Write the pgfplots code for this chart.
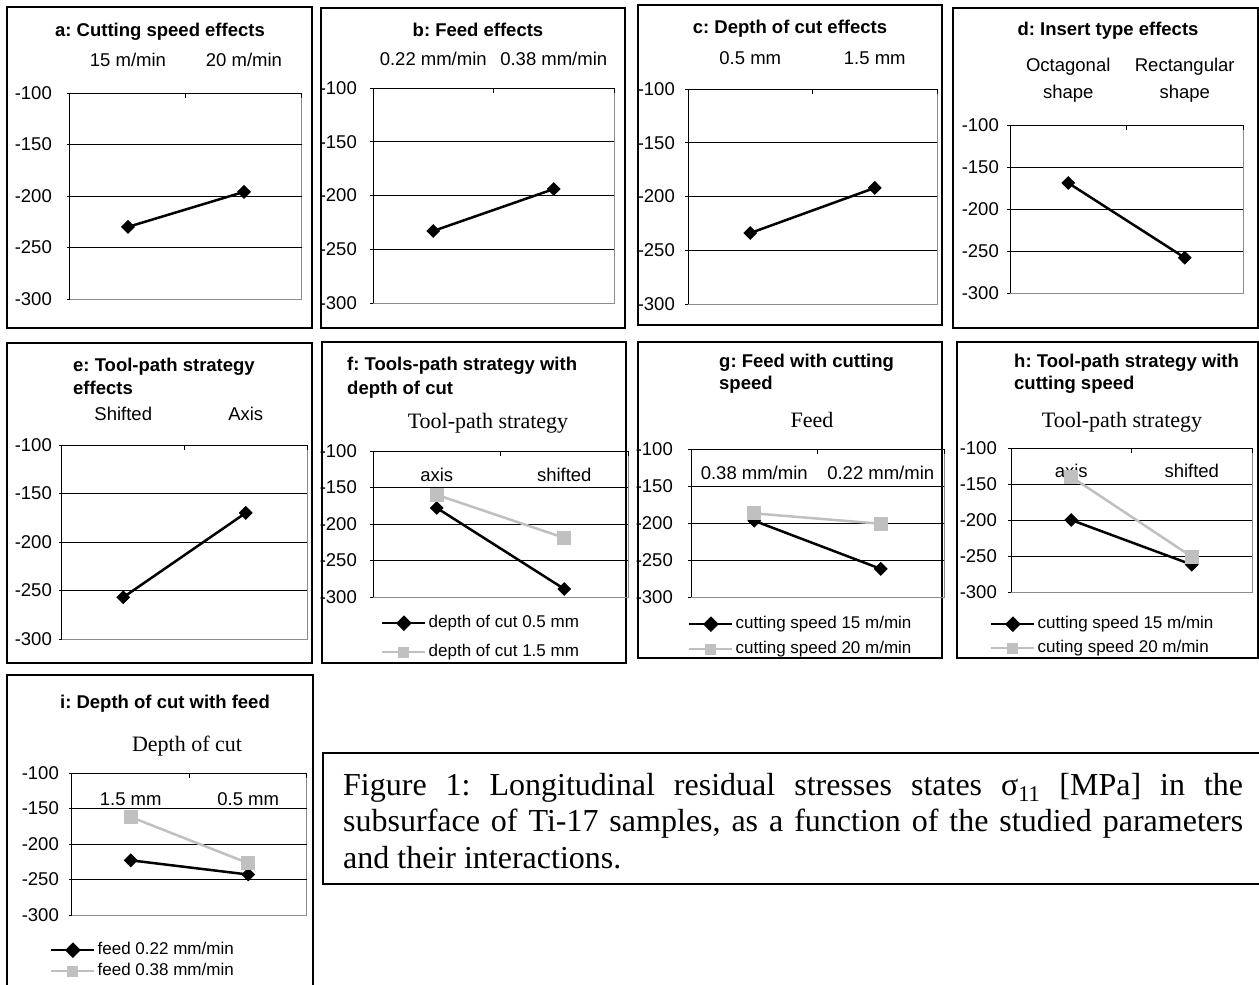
\documentclass[border=0pt]{standalone}
\usepackage{fontspec}
\setmainfont{Liberation Sans}
\newfontfamily\tms{Liberation Serif}
\usepackage{pgfplots}
\pgfplotsset{compat=1.18}
\definecolor{lgray}{HTML}{C0C0C0}
\definecolor{bgray}{HTML}{8C8C8C}

\pgfplotsset{
  panel/.style n args={6}{
    scale only axis, anchor=south west, at={(#1pt,-#2pt)}, width=#3pt, height=#4pt,
    xmin=0.5, xmax=2.5, ymin=-300, ymax=-100,
    axis line style={draw=none},
    xtick={1,2}, xticklabel pos=right, xtick style={draw=none},
    xticklabel style={anchor=center, inner sep=0pt, yshift=#5pt, font=\fontsize{18.5}{27}\selectfont, align=center},
    ytick={-300,-250,-200,-150,-100},
    yticklabels={-300,-250,-200,-150,-100},
    ytick pos=left,
    ytick style={black, line width=0.8pt},
    tick align=outside, major tick length=3pt,
    yticklabel style={font=\fontsize{18.5}{20}\selectfont, inner sep=0pt, anchor=east, xshift=-#6pt},
    clip=false,
  },
  blk/.style={black, line width=2.5pt, mark=square*, mark size=4.4pt, mark options={rotate=45, solid, line width=1pt}},
  gry/.style={lgray, line width=2.5pt, mark=square*, mark size=6.5pt, mark options={solid, line width=1pt}},
  leg/.style n args={3}{
    legend style={draw=none, fill=none, at={(rel axis cs:0,0)}, anchor=north west,
      xshift=#1pt, yshift=#2pt, inner sep=0pt, row sep=#3pt,
      font=\fontsize{17}{20}\selectfont,
      nodes={inner sep=0pt, text height=12pt, text depth=4pt},
      /tikz/every odd column/.append style={column sep=2pt}},
    legend cell align=left,
    legend image code/.code={\draw[mark repeat=2, mark phase=2, ##1, mark size=5pt] plot coordinates {(0pt,0pt) (21.5pt,0pt) (43pt,0pt)};},
  },
}

\newcommand\frameaxis{%
  \draw[bgray, line width=1pt] (rel axis cs:0,0) -- (rel axis cs:1,0) -- (rel axis cs:1,1);
  \draw[black, line width=0.9pt] (rel axis cs:0,0.25) -- (rel axis cs:1,0.25);
  \draw[black, line width=0.9pt] (rel axis cs:0,0.5) -- (rel axis cs:1,0.5);
  \draw[black, line width=0.9pt] (rel axis cs:0,0.75) -- (rel axis cs:1,0.75);
  \draw[black, line width=1pt] (rel axis cs:0,0) -- (rel axis cs:0,1) -- (rel axis cs:1,1);
  \draw[black, line width=1pt] (rel axis cs:0.5,1) -- ([yshift=-5pt]rel axis cs:0.5,1);
  \draw[black, line width=1pt] (rel axis cs:1,1) -- ([yshift=-5pt]rel axis cs:1,1);
}

\begin{document}
\frenchspacing
\begin{tikzpicture}
\useasboundingbox[fill=white] (0,0) rectangle (1259pt,-985pt);

% frames
\begin{scope}[line width=1.3pt]
\draw (7pt,-7pt) rectangle (312pt,-328pt);
\draw (321pt,-8pt) rectangle (625pt,-328pt);
\draw (638pt,-5pt) rectangle (942pt,-325pt);
\draw (953pt,-8pt) rectangle (1258pt,-328pt);
\draw (7pt,-343pt) rectangle (312pt,-663pt);
\draw (322pt,-342pt) rectangle (626pt,-663pt);
\draw (638pt,-342pt) rectangle (942pt,-658pt);
\draw (957pt,-342pt) rectangle (1258pt,-658pt);
\draw (7pt,-675pt) rectangle (313pt,-995pt);
\draw (323pt,-753pt) rectangle (1270pt,-884pt);
\end{scope}

% ---------- a
\begin{axis}[panel={70}{299}{232}{206}{30}{15}, xticklabels={15 m/min, 20 m/min}]
\frameaxis
\addplot[blk] coordinates {(1,-230) (2,-196)};
\end{axis}
\node[anchor=base, inner sep=0pt, font=\bfseries\fontsize{18.5}{22}\selectfont] at (160pt,-36pt) {a: Cutting speed effects};

% ---------- b
\begin{axis}[panel={373}{303}{241}{215}{26}{13}, xticklabels={0.22 mm/min, 0.38 mm/min}]
\frameaxis
\addplot[blk] coordinates {(1,-233) (2,-194)};
\end{axis}
\node[anchor=base, inner sep=0pt, font=\bfseries\fontsize{18.5}{22}\selectfont] at (478pt,-36pt) {b: Feed effects};

% ---------- c
\begin{axis}[panel={688}{304}{249}{215}{28}{10}, xticklabels={0.5 mm, 1.5 mm}]
\frameaxis
\addplot[blk] coordinates {(1,-234) (2,-192)};
\end{axis}
\node[anchor=base, inner sep=0pt, font=\bfseries\fontsize{18.5}{22}\selectfont] at (790pt,-33pt) {c: Depth of cut effects};

% ---------- d
\begin{axis}[panel={1010}{293}{233}{168}{41.5}{8}, xticklabels={{Octagonal\\shape}, {Rectangular\\shape}}]
\frameaxis
\addplot[blk] coordinates {(1,-169) (2,-258)};
\end{axis}
\node[anchor=base, inner sep=0pt, font=\bfseries\fontsize{18.5}{22}\selectfont] at (1108pt,-35pt) {d: Insert type effects};

% ---------- e
\begin{axis}[panel={62}{639}{245}{194}{28}{7}, xticklabels={Shifted, Axis}]
\frameaxis
\addplot[blk] coordinates {(1,-257) (2,-170)};
\end{axis}
\node[anchor=base west, inner sep=0pt, font=\bfseries\fontsize{18.5}{22}\selectfont] at (73pt,-371pt) {e: Tool-path strategy};
\node[anchor=base west, inner sep=0pt, font=\bfseries\fontsize{18.5}{22}\selectfont] at (73pt,-394pt) {effects};

% ---------- f
\begin{axis}[panel={373}{597}{255}{146}{-27}{13}, xticklabels={axis, shifted}, leg={8}{-18}{13}]
\frameaxis
\addplot[blk] coordinates {(1,-178) (2,-289)};
\addlegendentry{depth of cut 0.5 mm}
\addplot[gry] coordinates {(1,-160) (2,-219)};
\addlegendentry{depth of cut 1.5 mm}
\end{axis}
\node[anchor=base west, inner sep=0pt, font=\bfseries\fontsize{18.5}{22}\selectfont] at (347pt,-370pt) {f: Tools-path strategy with};
\node[anchor=base west, inner sep=0pt, font=\bfseries\fontsize{18.5}{22}\selectfont] at (347pt,-394pt) {depth of cut};
\node[anchor=base, inner sep=0pt, font=\tms\fontsize{22}{26}\selectfont] at (488pt,-428pt) {Tool-path strategy};

% ---------- g
\begin{axis}[panel={691}{597}{253}{148}{-27}{15}, xticklabels={0.38 mm/min, 0.22 mm/min}, leg={-3}{-19}{9}]
\frameaxis
\addplot[blk] coordinates {(1,-197) (2,-262)};
\addlegendentry{cutting speed 15 m/min}
\addplot[gry] coordinates {(1,-187) (2,-201)};
\addlegendentry{cutting speed 20 m/min}
\end{axis}
\node[anchor=base west, inner sep=0pt, font=\bfseries\fontsize{18.5}{22}\selectfont] at (719pt,-367pt) {g: Feed with cutting};
\node[anchor=base west, inner sep=0pt, font=\bfseries\fontsize{18.5}{22}\selectfont] at (719pt,-389pt) {speed};
\node[anchor=base, inner sep=0pt, font=\tms\fontsize{22}{26}\selectfont] at (812pt,-427pt) {Feed};

% ---------- h
\begin{axis}[panel={1011}{592}{241}{144}{-26}{11}, xticklabels={axis, shifted}, leg={-21}{-24}{8}]
\frameaxis
\addplot[blk] coordinates {(1,-200) (2,-262)};
\addlegendentry{cutting speed 15 m/min}
\addplot[gry] coordinates {(1,-140) (2,-251)};
\addlegendentry{cuting speed 20 m/min}
\end{axis}
\node[anchor=base west, inner sep=0pt, font=\bfseries\fontsize{18.5}{22}\selectfont] at (1014pt,-367pt) {h: Tool-path strategy with};
\node[anchor=base west, inner sep=0pt, font=\bfseries\fontsize{18.5}{22}\selectfont] at (1014pt,-389pt) {cutting speed};
\node[anchor=base, inner sep=0pt, font=\tms\fontsize{22}{26}\selectfont] at (1122pt,-427pt) {Tool-path strategy};

% ---------- i
\begin{axis}[panel={72}{915}{235}{142}{-29}{10}, xticklabels={1.5 mm, 0.5 mm}, leg={-22}{-27}{5}]
\frameaxis
\addplot[blk] coordinates {(1,-223) (2,-243)};
\addlegendentry{feed 0.22 mm/min}
\addplot[gry] coordinates {(1,-162) (2,-227)};
\addlegendentry{feed 0.38 mm/min}
\end{axis}
\node[anchor=base, inner sep=0pt, font=\bfseries\fontsize{18.5}{22}\selectfont] at (165pt,-708pt) {i: Depth of cut with feed};
\node[anchor=base, inner sep=0pt, font=\tms\fontsize{22}{26}\selectfont] at (187pt,-751pt) {Depth of cut};

% caption
\node[anchor=north west, inner sep=0pt, text width=900pt, align=justify, font=\tms\fontsize{32}{36.5}\selectfont] at (343pt,-773pt)
 {Figure 1: Longitudinal residual stresses states σ\textsubscript{11} [MPa] in the\linebreak subsurface of Ti-17 samples, as a function of the studied parameters\linebreak and their interactions.};
\end{tikzpicture}
\end{document}
